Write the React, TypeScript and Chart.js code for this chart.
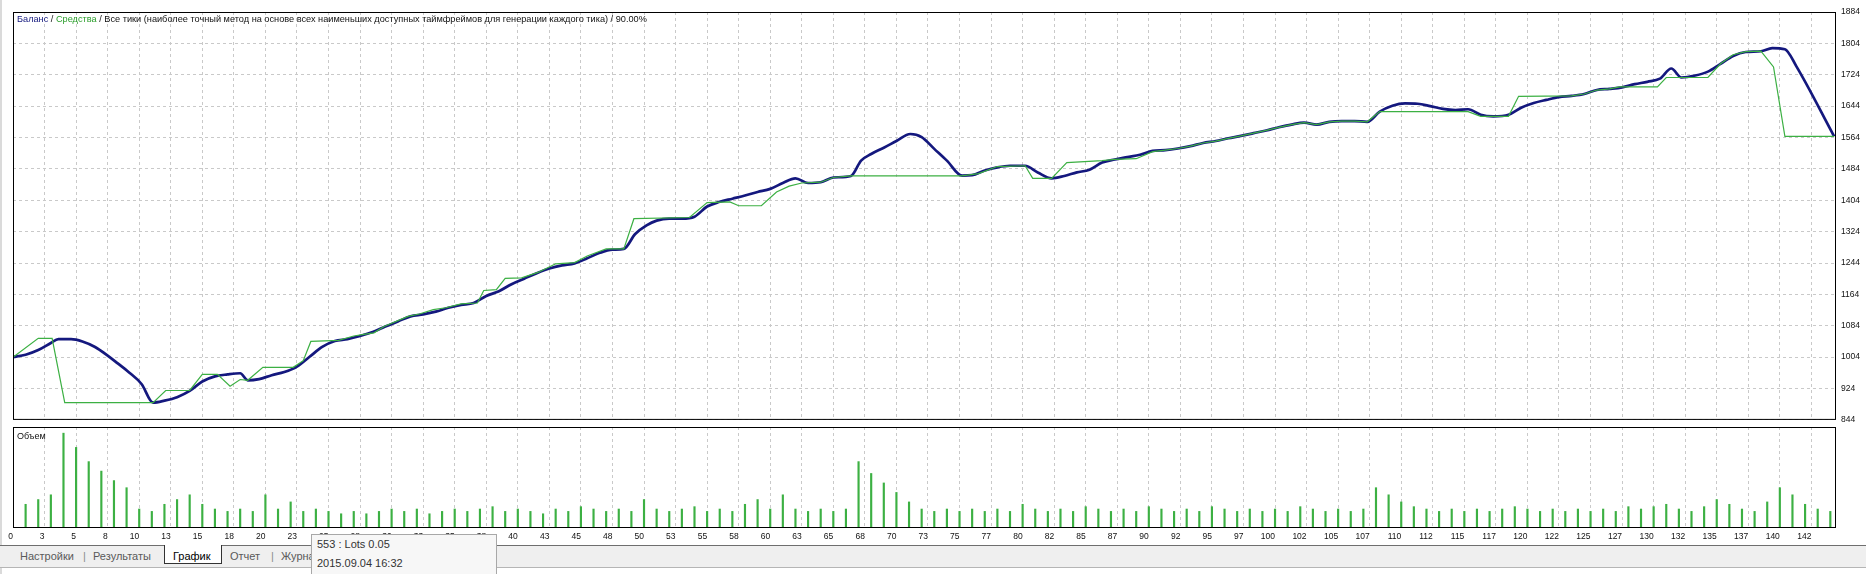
import React, { useEffect, useRef } from 'react';
import { Chart, registerables } from 'chart.js';

Chart.register(...registerables);

// ---------- data ----------
const titleParts = ['Баланс', ' / ', 'Средства', ' / Все тики (наиболее точный метод на основе всех наименьших доступных таймфреймов для генерации каждого тика) / 90.00%'];

const yTickLabels = [1884, 1804, 1724, 1644, 1564, 1484, 1404, 1324, 1244, 1164, 1084, 1004, 924, 844];

const xTickLabels = ['0', '3', '5', '8', '10', '13', '15', '18', '20', '23', '25', '28', '30', '33', '35', '38', '40', '43', '45', '48', '50', '53', '55', '58', '60', '63', '65', '68', '70', '73', '75', '77', '80', '82', '85', '87', '90', '92', '95', '97', '100', '102', '105', '107', '110', '112', '115', '117', '120', '122', '125', '127', '130', '132', '135', '137', '140', '142'];

const balanceX = [0, 1, 2, 3, 3.6, 4.6, 5.5, 6.5, 7.5, 8.3, 9.2, 10.2, 11.1, 12, 13, 14, 15, 16, 17, 18, 18.6, 19.5, 20.5, 21.5, 22.5, 23.5, 24.5, 25.5, 26.5, 27.5, 28.5, 29.5, 30.5, 31.5, 32.5, 33.5, 34.5, 35.5, 36.5, 37.5, 38.5, 39.5, 40.5, 41.5, 42.5, 43.5, 44.5, 45.5, 46.5, 47.5, 48.4, 49.3, 50.2, 51, 52, 53, 54, 55, 56, 57, 58, 59, 60, 61, 62, 63, 64, 65, 66.4, 67.2, 68, 69, 70, 71.1, 72, 73, 74, 75.2, 76, 77, 78, 79, 80.2, 81.2, 82.3, 83.3, 84.3, 85.3, 86.3, 87.3, 88.3, 89.3, 90.3, 91.3, 92.3, 93.3, 94.3, 95.3, 96.3, 97.3, 98.3, 99.3, 100.3, 101.3, 102.3, 103.3, 104.3, 105.3, 106.3, 107.3, 108.3, 109.3, 110.3, 111.3, 112.3, 113.3, 114.3, 115.3, 116.3, 117.3, 118.5, 119.5, 120.5, 121.5, 122.5, 123.5, 124.5, 125.5, 126.5, 127.5, 128.5, 129.5, 130.5, 131.4, 132.2, 133.3, 134.3, 135.3, 136.3, 137.3, 138.5, 139.4, 140.4, 141.3, 144.3];
const balanceY = [1004, 1010, 1022, 1040, 1050, 1050, 1044, 1030, 1008, 988, 965, 935, 888, 893, 902, 918, 942, 955, 960, 963, 945, 948, 958, 966, 980, 1005, 1030, 1045, 1050, 1058, 1068, 1082, 1095, 1108, 1113, 1120, 1130, 1137, 1142, 1160, 1172, 1190, 1204, 1218, 1230, 1238, 1243, 1256, 1270, 1278, 1280, 1318, 1340, 1352, 1357, 1357, 1362, 1388, 1400, 1408, 1416, 1425, 1433, 1448, 1460, 1448, 1450, 1462, 1466, 1505, 1522, 1538, 1555, 1573, 1565, 1535, 1505, 1467, 1468, 1480, 1488, 1492, 1492, 1475, 1460, 1466, 1475, 1482, 1500, 1508, 1514, 1520, 1530, 1532, 1536, 1542, 1550, 1555, 1562, 1568, 1575, 1582, 1590, 1597, 1602, 1597, 1604, 1606, 1606, 1604, 1630, 1645, 1651, 1650, 1644, 1637, 1634, 1636, 1622, 1618, 1622, 1640, 1652, 1660, 1667, 1670, 1675, 1685, 1688, 1692, 1700, 1706, 1714, 1740, 1717, 1722, 1732, 1752, 1772, 1782, 1784, 1792, 1789, 1746, 1567];

const equityX = [0, 2, 3.1, 4.1, 11.1, 12.1, 14, 15, 16.2, 17.2, 18, 18.6, 19.8, 22.2, 23, 23.6, 25.8, 27, 27.8, 28.6, 29.4, 31.3, 32.2, 33.3, 34.3, 35.5, 36.8, 37.3, 38.3, 39, 40.3, 41.6, 43, 44.5, 45.5, 47, 48.4, 49.2, 53.6, 55, 56.8, 57.5, 59.3, 60.5, 61.5, 62.5, 64, 65, 66.4, 75.2, 76.5, 78, 80.2, 80.8, 82.3, 83.5, 86.3, 87.3, 89, 90.3, 91.3, 92.3, 93.3, 94.3, 95.3, 96.3, 97.3, 98.3, 99.3, 100.3, 101.3, 102.3, 103.3, 104.3, 105.3, 106.3, 107.3, 108.3, 115.3, 116.3, 118.5, 119.3, 123.5, 124.5, 125.5, 126.5, 127.3, 130.3, 131, 134.3, 135.3, 136.3, 137.3, 138.5, 139.5, 140.4, 144.3];
const equityY = [1004, 1052, 1052, 888, 888, 919, 919, 960, 960, 930, 947, 945, 978, 978, 995, 1044, 1047, 1058, 1062, 1066, 1082, 1108, 1114, 1125, 1130, 1140, 1142, 1174, 1176, 1205, 1206, 1220, 1242, 1245, 1262, 1280, 1280, 1357, 1360, 1398, 1400, 1390, 1390, 1425, 1440, 1448, 1450, 1462, 1466, 1466, 1472, 1490, 1492, 1460, 1460, 1500, 1505, 1508, 1510, 1528, 1532, 1536, 1542, 1550, 1555, 1562, 1568, 1575, 1582, 1590, 1597, 1602, 1597, 1604, 1606, 1606, 1604, 1630, 1630, 1618, 1618, 1669, 1670, 1675, 1685, 1688, 1693, 1693, 1717, 1717, 1752, 1775, 1783, 1784, 1744, 1567, 1567];

// lots per trade, trades 1..144
const volumeLots = [
  0.05, 0.06, 0.07, 0.20, 0.17, 0.14, 0.12, 0.10, 0.085, 0.04,
  0.035, 0.05, 0.06, 0.07, 0.05, 0.04, 0.035, 0.04, 0.035, 0.07,
  0.04, 0.055, 0.035, 0.04, 0.035, 0.03, 0.035, 0.03, 0.035, 0.04,
  0.035, 0.04, 0.03, 0.035, 0.04, 0.035, 0.04, 0.045, 0.035, 0.04,
  0.035, 0.03, 0.04, 0.035, 0.045, 0.04, 0.035, 0.04, 0.035, 0.06,
  0.04, 0.035, 0.04, 0.045, 0.035, 0.04, 0.035, 0.05, 0.06, 0.04,
  0.07, 0.04, 0.035, 0.04, 0.035, 0.04, 0.14, 0.115, 0.095, 0.075,
  0.055, 0.04, 0.035, 0.04, 0.035, 0.04, 0.035, 0.04, 0.035, 0.05,
  0.04, 0.035, 0.04, 0.035, 0.045, 0.04, 0.035, 0.04, 0.035, 0.045,
  0.04, 0.035, 0.04, 0.035, 0.045, 0.04, 0.035, 0.04, 0.035, 0.04,
  0.035, 0.045, 0.04, 0.035, 0.04, 0.035, 0.04, 0.085, 0.07, 0.055,
  0.045, 0.04, 0.035, 0.04, 0.035, 0.04, 0.035, 0.04, 0.045, 0.04,
  0.035, 0.04, 0.035, 0.04, 0.035, 0.04, 0.035, 0.045, 0.04, 0.045,
  0.05, 0.04, 0.035, 0.045, 0.06, 0.05, 0.04, 0.035, 0.055, 0.085,
  0.07, 0.05, 0.04, 0.035,
];

const tabs = ['Настройки', 'Результаты', 'График', 'Отчет', 'Журнал'];
const tooltipLines = ['553 : Lots 0.05', '2015.09.04 16:32'];

// ---------- styles ----------
const NAVY = '#14187e';
const GREEN = '#3cb043';
const GRID = '#c9c9c9';
const X_MIN = 0;
const X_MAX = 144.45;
const X_STEP = 2.5;
const Y_MIN = 844;
const Y_MAX = 1884;
const VOL_MAX = 0.213;
const TICK_FONT = { family: "'Liberation Sans', Arial, sans-serif", size: 8.5 };
const UI_FONT = "'Liberation Sans', Arial, sans-serif";

const framePlugin = {
  id: 'frame',
  afterDatasetsDraw(chart: any) {
    const { ctx, chartArea: a } = chart;
    ctx.save();
    ctx.strokeStyle = '#000';
    ctx.lineWidth = 1;
    ctx.strokeRect(a.left + 0.5, a.top + 0.5, a.right - a.left - 1, a.bottom - a.top - 1);
    ctx.restore();
  },
};

const xGridTicks = (s: any) => {
  s.ticks = xTickLabels.map((_, i) => ({ value: i * X_STEP }));
};

export default function App() {
  const mainRef = useRef<HTMLCanvasElement>(null);
  const volRef = useRef<HTMLCanvasElement>(null);

  useEffect(() => {
    document.body.style.margin = '0';
    const main = new Chart(mainRef.current!, {
      type: 'line',
      data: {
        datasets: [
          {
            label: 'Средства',
            data: equityX.map((x, i) => ({ x, y: equityY[i] })),
            borderColor: GREEN,
            borderWidth: 1.2,
            pointRadius: 0,
            tension: 0,
          },
          {
            label: 'Баланс',
            data: balanceX.map((x, i) => ({ x, y: balanceY[i] })),
            borderColor: NAVY,
            borderWidth: 2.7,
            pointRadius: 0,
            cubicInterpolationMode: 'monotone',
          },
        ],
      },
      options: {
        animation: false,
        responsive: false,
        maintainAspectRatio: false,
        devicePixelRatio: 1,
        layout: { padding: { left: 13, top: 12, right: 0, bottom: 5 } },
        plugins: { legend: { display: false }, tooltip: { enabled: false }, title: { display: false } },
        scales: {
          x: {
            type: 'linear',
            min: X_MIN,
            max: X_MAX,
            afterBuildTicks: xGridTicks,
            afterFit: (s: any) => { s.height = 0; },
            ticks: { display: false },
            grid: { color: GRID, lineWidth: 1, drawTicks: false },
            border: { display: false, dash: [3, 3] },
          },
          y: {
            type: 'linear',
            position: 'right',
            min: Y_MIN,
            max: Y_MAX,
            afterBuildTicks: (s: any) => { s.ticks = yTickLabels.map((v) => ({ value: v })); },
            afterFit: (s: any) => { s.width = 30; },
            ticks: { color: '#111', font: TICK_FONT, padding: 5, callback: (v: any) => String(v) },
            grid: { color: GRID, lineWidth: 1, drawTicks: false },
            border: { display: false, dash: [3, 3] },
          },
        },
      },
      plugins: [framePlugin],
    } as any);

    const vol = new Chart(volRef.current!, {
      type: 'bar',
      data: {
        datasets: [
          {
            label: 'Объем',
            data: volumeLots.map((v, i) => ({ x: i + 1, y: v })),
            backgroundColor: GREEN,
            borderWidth: 0,
            barThickness: 1.5,
          },
        ],
      },
      options: {
        animation: false,
        responsive: false,
        maintainAspectRatio: false,
        devicePixelRatio: 1,
        layout: { padding: { left: 13, top: 7, right: 30, bottom: 0 } },
        plugins: { legend: { display: false }, tooltip: { enabled: false }, title: { display: false } },
        scales: {
          x: {
            type: 'linear',
            min: X_MIN,
            max: X_MAX,
            offset: false,
            afterBuildTicks: xGridTicks,
            afterFit: (s: any) => { s.height = 22; },
            ticks: {
              autoSkip: false,
              maxRotation: 0,
              align: 'end',
              padding: 4,
              color: '#111',
              font: TICK_FONT,
              callback: (_v: any, i: number) => xTickLabels[i],
            },
            grid: { color: GRID, lineWidth: 1, drawTicks: false, offset: false },
            border: { display: false, dash: [3, 3] },
          },
          y: { type: 'linear', min: 0, max: VOL_MAX, display: false },
        },
      },
      plugins: [framePlugin],
    } as any);

    return () => {
      main.destroy();
      vol.destroy();
    };
  }, []);

  const tabPos = [20, 93, 173, 230, 281];

  return (
    <div style={{ position: 'relative', width: 1866, height: 574, background: '#fff', overflow: 'hidden', fontFamily: UI_FONT }}>
      <canvas ref={mainRef} width={1866} height={430} style={{ position: 'absolute', left: 0, top: 0, width: 1866, height: 430 }} />
      <canvas ref={volRef} width={1866} height={130} style={{ position: 'absolute', left: 0, top: 420, width: 1866, height: 130 }} />

      <div style={{ position: 'absolute', left: 0, top: 0, width: 2, height: 574, background: '#dadada' }} />

      <div style={{ position: 'absolute', left: 17, top: 13, fontSize: 9.2, lineHeight: '12px', whiteSpace: 'nowrap', color: '#111' }}>
        <span style={{ color: NAVY }}>{titleParts[0]}</span>
        <span>{titleParts[1]}</span>
        <span style={{ color: '#2a9d2a' }}>{titleParts[2]}</span>
        <span>{titleParts[3]}</span>
      </div>

      <div style={{ position: 'absolute', left: 17, top: 430, fontSize: 9, lineHeight: '12px', color: '#111' }}>Объем</div>

      <div style={{ position: 'absolute', left: 0, top: 545, width: 1866, height: 21, background: '#efefef', borderTop: '1px solid #6e6e6e', borderBottom: '1px solid #b5b5b5' }} />
      <div style={{ position: 'absolute', left: 164, top: 545, width: 56, height: 18, background: '#fff', borderLeft: '1px solid #333', borderRight: '1px solid #333', borderBottom: '1px solid #333' }} />
      {tabs.map((t, i) => (
        <div key={t} style={{ position: 'absolute', left: tabPos[i], top: 549, fontSize: 11, lineHeight: '14px', color: i === 2 ? '#000' : '#5a5a5a', whiteSpace: 'nowrap' }}>{t}</div>
      ))}
      <div style={{ position: 'absolute', left: 83, top: 549, fontSize: 11, lineHeight: '14px', color: '#8a8a8a' }}>|</div>
      <div style={{ position: 'absolute', left: 271, top: 549, fontSize: 11, lineHeight: '14px', color: '#8a8a8a' }}>|</div>

      <div style={{ position: 'absolute', left: 311, top: 534, width: 186, height: 50, background: '#f7f7f7', border: '1px solid #a8a8a8', boxSizing: 'border-box' }}>
        <div style={{ position: 'absolute', left: 5, top: 2, fontSize: 11, lineHeight: '14px', color: '#333', whiteSpace: 'nowrap' }}>{tooltipLines[0]}</div>
        <div style={{ position: 'absolute', left: 5, top: 21, fontSize: 11, lineHeight: '14px', color: '#333', whiteSpace: 'nowrap' }}>{tooltipLines[1]}</div>
      </div>
    </div>
  );
}
